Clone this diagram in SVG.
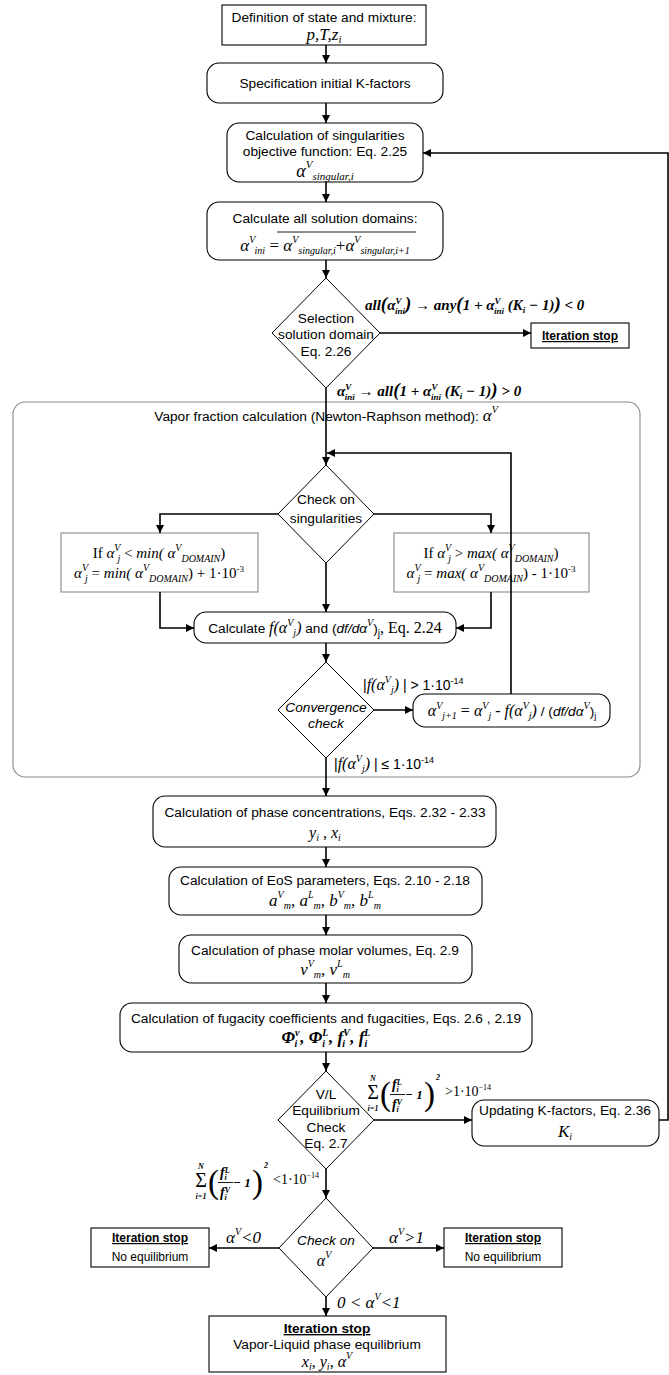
<svg xmlns="http://www.w3.org/2000/svg" width="669" height="1375" viewBox="0 0 669 1375">
<defs>
<marker id="ah" viewBox="0 0 10 10" refX="10" refY="5" markerWidth="9" markerHeight="8" markerUnits="userSpaceOnUse" orient="auto"><path d="M0,0L10,5L0,10z" fill="#000"/></marker>
<style>
.bx{fill:#fff;stroke:#000;stroke-width:1.1}
.gb{fill:#fff;stroke:#8a8a8a;stroke-width:1.1}
.ct{fill:none;stroke:#8a8a8a;stroke-width:1.1}
.dm{fill:#fff;stroke:#000;stroke-width:1}
.ca{fill:none;stroke:#000;stroke-width:1.6;marker-end:url(#ah)}
.fb{stroke:#000;stroke-width:0.9}
text{fill:#000}
.a{font-family:"Liberation Sans",Arial,sans-serif;font-size:13.7px;text-anchor:middle}
.ai{font-family:"Liberation Sans",Arial,sans-serif;font-size:13.7px;font-style:italic;text-anchor:middle}
.ab{font-family:"Liberation Sans",Arial,sans-serif;font-size:13.7px;font-weight:bold;text-decoration:underline;text-anchor:middle}
.s12{font-size:12px}
.t{font-family:"Liberation Serif","Times New Roman",serif;font-style:italic}
.tb{font-family:"Liberation Serif","Times New Roman",serif;font-style:italic;font-weight:bold}
.tr{font-family:"Liberation Serif","Times New Roman",serif;font-style:normal;font-weight:normal}
.ar{font-family:"Liberation Sans",Arial,sans-serif;font-style:normal}
.ari{font-family:"Liberation Sans",Arial,sans-serif;font-style:italic}
.mid{text-anchor:middle}
</style>
</defs>

<g id="vapor-loop">
<rect class="ct" x="13" y="402" width="627" height="375" rx="12"/>
<text class="a" x="326" y="421">Vapor fraction calculation (Newton-Raphson method): <tspan class="t" font-size="17">α</tspan><tspan class="t" font-size="10" dy="-8">V</tspan></text>
</g>

<g id="n-definition">
<rect class="bx" x="222" y="5" width="204" height="40"/>
<text class="a" x="324" y="22">Definition of state and mixture:</text>
<text class="t mid" x="324" y="40" font-size="17">p,T,z<tspan font-size="11" dy="3">i</tspan></text>
</g>

<g id="n-spec">
<rect class="bx" x="207" y="63" width="236" height="40" rx="12"/>
<text class="a" x="325" y="88">Specification initial K-factors</text>
</g>

<g id="n-singular">
<rect class="bx" x="227" y="123" width="196" height="59" rx="12"/>
<text class="a" x="325" y="140">Calculation of singularities</text>
<text class="a" x="325" y="156">objective function: Eq. 2.25</text>
<text class="t mid" x="325" y="177" font-size="18">α<tspan font-size="11" dy="-9">V</tspan><tspan font-size="11" dy="12">singular,i</tspan></text>
</g>

<g id="n-domains">
<rect class="bx" x="207" y="202" width="236" height="58" rx="12"/>
<text class="a" x="325" y="223">Calculate all solution domains:</text>
<text class="t mid" x="325" y="251" font-size="17">α<tspan font-size="10" dy="-8">V</tspan><tspan font-size="10" dy="11">ini</tspan><tspan class="tr" dy="-3"> = </tspan>α<tspan font-size="10" dy="-8">V</tspan><tspan font-size="10" dy="11">singular,i</tspan><tspan class="tr" dy="-3">+</tspan>α<tspan font-size="10" dy="-8">V</tspan><tspan font-size="10" dy="11">singular,i+1</tspan></text>
<line class="fb" x1="277" y1="232" x2="416" y2="232"/>
</g>

<g id="d-selection">
<polygon class="dm" points="326,278 380,333 326,388 272,333"/>
<text class="a" x="326" y="323">Selection</text>
<text class="a" x="326" y="339">solution domain</text>
<text class="a" x="326" y="356">Eq. 2.26</text>
</g>

<g id="n-stop1">
<rect class="bx" x="531" y="323" width="98" height="25"/>
<text class="ab s12" x="580" y="340">Iteration stop</text>
</g>

<g id="d-check-sing">
<polygon class="dm" points="326,465 374,514 326,563 278,514"/>
<text class="a" x="326" y="504">Check on</text>
<text class="a" x="326" y="523">singularities</text>
</g>

<g id="n-min">
<rect class="gb" x="61" y="533" width="197" height="59"/>
<text class="t mid" x="159" y="558" font-size="15"><tspan class="tr">If </tspan>α<tspan font-size="10" dy="-7">V</tspan><tspan font-size="10" dx="-3" dy="11">j</tspan><tspan class="tr" dy="-4"> &lt; </tspan>min( α<tspan font-size="10" dy="-7">V</tspan><tspan font-size="10" dy="11">DOMAIN</tspan><tspan class="tr" dy="-4">)</tspan></text>
<text class="t mid" x="159" y="578" font-size="15">α<tspan font-size="10" dy="-7">V</tspan><tspan font-size="10" dx="-3" dy="11">j</tspan><tspan class="tr" dy="-4"> = </tspan>min( α<tspan font-size="10" dy="-7">V</tspan><tspan font-size="10" dy="11">DOMAIN</tspan><tspan class="tr" dy="-4">) + 1·10</tspan><tspan class="tr" font-size="9" dy="-6">-3</tspan></text>
</g>

<g id="n-max">
<rect class="gb" x="394" y="533" width="195" height="59"/>
<text class="t mid" x="491" y="558" font-size="15"><tspan class="tr">If </tspan>α<tspan font-size="10" dy="-7">V</tspan><tspan font-size="10" dx="-3" dy="11">j</tspan><tspan class="tr" dy="-4"> &gt; </tspan>max( α<tspan font-size="10" dy="-7">V</tspan><tspan font-size="10" dy="11">DOMAIN</tspan><tspan class="tr" dy="-4">)</tspan></text>
<text class="t mid" x="491" y="578" font-size="15">α<tspan font-size="10" dy="-7">V</tspan><tspan font-size="10" dx="-3" dy="11">j</tspan><tspan class="tr" dy="-4"> = </tspan>max( α<tspan font-size="10" dy="-7">V</tspan><tspan font-size="10" dy="11">DOMAIN</tspan><tspan class="tr" dy="-4">) - 1·10</tspan><tspan class="tr" font-size="9" dy="-6">-3</tspan></text>
</g>

<g id="n-calc">
<rect class="bx" x="194" y="612" width="262" height="31" rx="12"/>
<text class="a" x="325" y="633">Calculate <tspan class="t" font-size="16">f(α</tspan><tspan class="t" font-size="10" dy="-7">V</tspan><tspan class="t" font-size="10" dy="10">j</tspan><tspan class="t" font-size="16" dy="-3">)</tspan> and (<tspan class="ari">df/dα</tspan><tspan class="t" font-size="10" dy="-7">V</tspan><tspan dy="7">)</tspan><tspan font-size="10" dy="4">j</tspan><tspan class="tr" font-size="16" dy="-4">, Eq. 2.24</tspan></text>
</g>

<g id="d-convergence">
<polygon class="dm" points="326,662 374,710 326,758 278,710"/>
<text class="ai" x="326" y="712">Convergence</text>
<text class="ai" x="326" y="728">check</text>
</g>

<g id="n-newton">
<rect class="bx" x="413" y="694" width="197" height="33" rx="12"/>
<text class="t mid" x="512" y="716" font-size="16">α<tspan font-size="10" dy="-7">V</tspan><tspan font-size="10" dy="10">j+1</tspan><tspan class="tr" dy="-3"> = </tspan>α<tspan font-size="10" dy="-7">V</tspan><tspan font-size="10" dy="10">j</tspan><tspan class="tr" dy="-3"> - </tspan>f(α<tspan font-size="10" dy="-7">V</tspan><tspan font-size="10" dy="10">j</tspan><tspan dy="-3">)</tspan><tspan class="ar" font-size="13.7"> / (</tspan><tspan class="ari" font-size="13.7">df/dα</tspan><tspan font-size="10" dy="-7">V</tspan><tspan class="ar" font-size="13.7" dy="7">)</tspan><tspan class="ar" font-size="9" dy="3">j</tspan></text>
</g>

<g id="n-phase">
<rect class="bx" x="153" y="796" width="343" height="51" rx="12"/>
<text class="a" x="325" y="817">Calculation of phase concentrations, Eqs. 2.32 - 2.33</text>
<text class="t mid" x="325" y="838" font-size="16">y<tspan font-size="10" dy="3">i</tspan><tspan class="tr" dy="-3"> , </tspan>x<tspan font-size="10" dy="3">i</tspan></text>
</g>

<g id="n-eos">
<rect class="bx" x="169" y="867" width="313" height="48" rx="12"/>
<text class="a" x="325" y="885">Calculation of EoS parameters, Eqs. 2.10 - 2.18</text>
<text class="t mid" x="325" y="906" font-size="17">a<tspan font-size="10" dy="-8">V</tspan><tspan font-size="10" dy="11">m</tspan><tspan class="tr" dy="-3">, </tspan>a<tspan font-size="10" dy="-8">L</tspan><tspan font-size="10" dy="11">m</tspan><tspan class="tr" dy="-3">, </tspan>b<tspan font-size="10" dy="-8">V</tspan><tspan font-size="10" dy="11">m</tspan><tspan class="tr" dy="-3">, </tspan>b<tspan font-size="10" dy="-8">L</tspan><tspan font-size="10" dy="11">m</tspan></text>
</g>

<g id="n-molar">
<rect class="bx" x="179" y="935" width="293" height="48" rx="12"/>
<text class="a" x="325" y="955">Calculation of phase molar volumes, Eq. 2.9</text>
<text class="t mid" x="325" y="975" font-size="17">v<tspan font-size="10" dy="-8">V</tspan><tspan font-size="10" dy="11">m</tspan><tspan class="tr" dy="-3">, </tspan>v<tspan font-size="10" dy="-8">L</tspan><tspan font-size="10" dy="11">m</tspan></text>
</g>

<g id="n-fugacity">
<rect class="bx" x="120" y="1003" width="412" height="49" rx="12"/>
<text class="a" x="326" y="1023">Calculation of fugacity coefficients and fugacities, Eqs. 2.6 , 2.19</text>
<text class="tb mid" x="326" y="1043" font-size="17">Φ<tspan font-size="10" dy="-7">v</tspan><tspan font-size="10" dx="-5" dy="11">i</tspan><tspan dx="3" dy="-4">, Φ</tspan><tspan font-size="10" dy="-7">L</tspan><tspan font-size="10" dx="-6" dy="11">i</tspan><tspan dx="4" dy="-4">, f</tspan><tspan font-size="10" dy="-7">V</tspan><tspan font-size="10" dx="-7" dy="11">i</tspan><tspan dx="5" dy="-4">, f</tspan><tspan font-size="10" dy="-7">L</tspan><tspan font-size="10" dx="-6" dy="11">i</tspan></text>
</g>

<g id="d-equilibrium">
<polygon class="dm" points="326,1071 374,1120 326,1169 278,1120"/>
<text class="a" x="326" y="1099">V/L</text>
<text class="a" x="326" y="1115">Equilibrium</text>
<text class="a" x="326" y="1132">Check</text>
<text class="a" x="326" y="1148">Eq. 2.7</text>
</g>

<g id="n-update">
<rect class="bx" x="472" y="1100" width="187" height="46" rx="12"/>
<text class="a" x="565" y="1115">Updating K-factors, Eq. 2.36</text>
<text class="t mid" x="565" y="1137" font-size="17">K<tspan font-size="10" dy="3">i</tspan></text>
</g>

<g id="d-alpha">
<polygon class="dm" points="326,1198 373,1248 326,1297 279,1248"/>
<text class="ai" x="326" y="1245">Check on</text>
<text class="t mid" x="324" y="1266" font-size="16">α<tspan font-size="10" dy="-8">V</tspan></text>
</g>

<g id="n-stop-left">
<rect class="bx" x="91" y="1228" width="118" height="39"/>
<text class="ab s12" x="150" y="1242">Iteration stop</text>
<text class="a s12" x="150" y="1261">No equilibrium</text>
</g>

<g id="n-stop-right">
<rect class="bx" x="444" y="1228" width="118" height="39"/>
<text class="ab s12" x="503" y="1242">Iteration stop</text>
<text class="a s12" x="503" y="1261">No equilibrium</text>
</g>

<g id="n-final">
<rect class="bx" x="209" y="1316" width="237" height="56"/>
<text class="ab" x="327" y="1333">Iteration stop</text>
<text class="a" x="327" y="1349">Vapor-Liquid phase equilibrium</text>
<text class="t mid" x="327" y="1367" font-size="16">x<tspan font-size="10" dy="3">i</tspan><tspan class="tr" dy="-3">, </tspan>y<tspan font-size="10" dy="3">i</tspan><tspan class="tr" dy="-3">, </tspan>α<tspan font-size="10" dy="-8">V</tspan></text>
</g>

<g id="connectors">
<path class="ca" d="M326,45V63"/>
<path class="ca" d="M326,103V123"/>
<path class="ca" d="M326,182V202"/>
<path class="ca" d="M326,260V278"/>
<path class="ca" d="M380,333H531"/>
<path class="ca" d="M326,388V465"/>
<path class="ca" d="M511,694V453H327"/>
<path class="ca" d="M278,514H160V533"/>
<path class="ca" d="M374,514H491V533"/>
<path class="ca" d="M326,563V612"/>
<path class="ca" d="M160,592V628H194"/>
<path class="ca" d="M491,592V628H456"/>
<path class="ca" d="M326,643V662"/>
<path class="ca" d="M374,710H413"/>
<path class="ca" d="M326,758V796"/>
<path class="ca" d="M326,847V867"/>
<path class="ca" d="M326,915V935"/>
<path class="ca" d="M326,983V1003"/>
<path class="ca" d="M326,1052V1071"/>
<path class="ca" d="M374,1120H472"/>
<path class="ca" d="M659,1120H668V153H423"/>
<path class="ca" d="M326,1169V1198"/>
<path class="ca" d="M279,1248H209"/>
<path class="ca" d="M373,1248H444"/>
<path class="ca" d="M326,1297V1316"/>

<text class="tb" x="365" y="310" font-size="15">all<tspan font-size="19">(</tspan>α<tspan font-size="9" dy="-6">V</tspan><tspan font-size="9" dx="-6" dy="10">ini</tspan><tspan font-size="19" dy="-4">)</tspan> → any<tspan font-size="19">(</tspan>1 + α<tspan font-size="9" dy="-6">V</tspan><tspan font-size="9" dx="-6" dy="10">ini</tspan><tspan dy="-4"> (K</tspan><tspan font-size="9" dy="3">i</tspan><tspan dy="-3"> − 1)</tspan><tspan font-size="19">)</tspan> &lt; 0</text>

<text class="tb" x="337" y="396" font-size="15">α<tspan font-size="9" dy="-6">V</tspan><tspan font-size="9" dx="-6" dy="10">ini</tspan><tspan dy="-4"> → all</tspan><tspan font-size="19">(</tspan>1 + α<tspan font-size="9" dy="-6">V</tspan><tspan font-size="9" dx="-6" dy="10">ini</tspan><tspan dy="-4"> (K</tspan><tspan font-size="9" dy="3">i</tspan><tspan dy="-3"> − 1)</tspan><tspan font-size="19">)</tspan> &gt; 0</text>

<text class="ar" x="363" y="690" font-size="14">|<tspan class="t" font-size="16">f(α</tspan><tspan class="t" font-size="10" dy="-7">V</tspan><tspan class="t" font-size="10" dy="10">j</tspan><tspan class="t" font-size="16" dy="-3">)</tspan> | &gt; 1·10<tspan font-size="9" dy="-6">-14</tspan></text>

<text class="ar" x="334" y="769" font-size="14">|<tspan class="t" font-size="16">f(α</tspan><tspan class="t" font-size="10" dy="-7">V</tspan><tspan class="t" font-size="10" dy="10">j</tspan><tspan class="t" font-size="16" dy="-3">)</tspan> | ≤ 1·10<tspan font-size="9" dy="-6">-14</tspan></text>

<g id="sum-upper">
<text class="tb mid" x="373" y="1081" font-size="8">N</text>
<text class="tr mid" x="373" y="1099" font-size="20">Σ</text>
<text class="tb mid" x="373" y="1111" font-size="8">i=1</text>
<text class="tr" x="380" y="1105" font-size="33">(</text>
<text class="tb" x="392" y="1089" font-size="14">f<tspan font-size="8" dy="-4">L</tspan><tspan font-size="8" dx="-5" dy="7">i</tspan></text>
<line class="fb" x1="390" y1="1094.5" x2="405" y2="1094.5"/>
<text class="tb" x="392" y="1109" font-size="14">f<tspan font-size="8" dy="-4">V</tspan><tspan font-size="8" dx="-5" dy="7">i</tspan></text>
<text class="tb" x="405" y="1099" font-size="13">− 1</text>
<text class="tr" x="424" y="1105" font-size="33">)</text>
<text class="tb" x="436" y="1080" font-size="8">2</text>
<text class="tr" x="445" y="1096" font-size="14">&gt;1·10<tspan font-size="8" dy="-6">−14</tspan></text>
</g>

<g id="sum-lower" transform="translate(-172,88)">
<text class="tb mid" x="373" y="1081" font-size="8">N</text>
<text class="tr mid" x="373" y="1099" font-size="20">Σ</text>
<text class="tb mid" x="373" y="1111" font-size="8">i=1</text>
<text class="tr" x="380" y="1105" font-size="33">(</text>
<text class="tb" x="392" y="1089" font-size="14">f<tspan font-size="8" dy="-4">L</tspan><tspan font-size="8" dx="-5" dy="7">i</tspan></text>
<line class="fb" x1="390" y1="1094.5" x2="405" y2="1094.5"/>
<text class="tb" x="392" y="1109" font-size="14">f<tspan font-size="8" dy="-4">V</tspan><tspan font-size="8" dx="-5" dy="7">i</tspan></text>
<text class="tb" x="405" y="1099" font-size="13">− 1</text>
<text class="tr" x="424" y="1105" font-size="33">)</text>
<text class="tb" x="436" y="1080" font-size="8">2</text>
<text class="tr" x="445" y="1096" font-size="14">&lt;1·10<tspan font-size="8" dy="-6">−14</tspan></text>
</g>

<text class="t" x="226" y="1243" font-size="17">α<tspan font-size="10" dy="-8">V</tspan><tspan dy="8">&lt;0</tspan></text>
<text class="t" x="389" y="1243" font-size="17">α<tspan font-size="10" dy="-8">V</tspan><tspan dy="8">&gt;1</tspan></text>
<text class="t" x="337" y="1308" font-size="17">0 &lt; α<tspan font-size="10" dy="-8">V</tspan><tspan dy="8">&lt;1</tspan></text>
</g>
</svg>
